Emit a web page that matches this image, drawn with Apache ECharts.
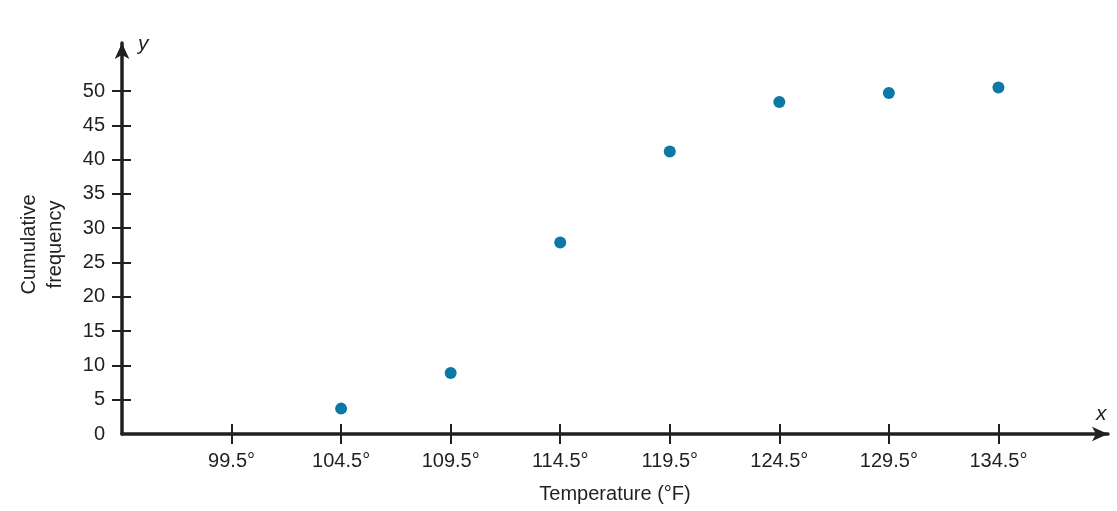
<!DOCTYPE html>
<html>
<head>
<meta charset="utf-8">
<script src="https://cdn.jsdelivr.net/npm/echarts@6/dist/echarts.min.js"></script>
<style>html,body{margin:0;padding:0;background:#fff}#c{width:1117px;height:511px}</style>
</head>
<body>
<div id="c"></div>
<script>
const xTicks = [99.5, 104.5, 109.5, 114.5, 119.5, 124.5, 129.5, 134.5];
const yTicks = [0, 5, 10, 15, 20, 25, 30, 35, 40, 45, 50];
const boundaries = [104.5, 109.5, 114.5, 119.5, 124.5, 129.5, 134.5];
const cumFreq = [3.7, 8.9, 27.9, 41.2, 48.4, 49.7, 50.5];
const xName = 'Temperature (°F)';
const yName = 'Cumulative\nfrequency';

const FONT = '"Liberation Sans", Arial, sans-serif';
const INK = '#231f20';
const chart = echarts.init(document.getElementById('c'));
const grid = {left: 122, right: 9, top: 43, bottom: 77, containLabel: false, outerBoundsMode: 'none'};
const xRange = {min: 94.5, max: 139.5, interval: 5};
const yRange = {min: 0, max: 57, interval: 5};
chart.setOption({
  animation: false,
  backgroundColor: '#ffffff',
  grid: grid,
  xAxis: [{
    type: 'value', ...xRange,
    name: xName, nameLocation: 'middle', nameGap: 50,
    nameTextStyle: {fontFamily: FONT, fontSize: 20, color: INK},
    axisLine: {show: true, lineStyle: {color: INK, width: 3.5}, symbol: ['none', 'arrow'], symbolSize: [11, 16], symbolOffset: [0, 0]},
    axisTick: {show: true, length: 10, lineStyle: {color: INK, width: 2}, customValues: xTicks},
    axisLabel: {fontFamily: FONT, fontSize: 20, color: INK, margin: 17, customValues: xTicks, formatter: v => v.toFixed(1) + '°'},
    splitLine: {show: false}
  }, {
    type: 'value', ...xRange, position: 'bottom',
    name: 'x', nameLocation: 'end', nameGap: -12,
    nameTextStyle: {fontFamily: FONT, fontSize: 21, fontStyle: 'italic', color: INK, verticalAlign: 'bottom', padding: [0, 0, 9, 0]},
    axisLine: {show: false},
    axisTick: {show: true, inside: true, length: 10, lineStyle: {color: INK, width: 2}, customValues: xTicks},
    axisLabel: {show: false},
    splitLine: {show: false}
  }],
  yAxis: [{
    type: 'value', ...yRange,
    name: yName, nameLocation: 'middle', nameGap: 54, nameRotate: 90,
    nameTextStyle: {fontFamily: FONT, fontSize: 20, color: INK, lineHeight: 26, padding: [0, 12, 0, 0]},
    axisLine: {show: true, lineStyle: {color: INK, width: 3.5}, symbol: ['none', 'arrow'], symbolSize: [11, 16], symbolOffset: [0, 0]},
    axisTick: {show: true, length: 10, lineStyle: {color: INK, width: 2}, customValues: yTicks.slice(1)},
    axisLabel: {fontFamily: FONT, fontSize: 20, color: INK, margin: 17, customValues: yTicks},
    splitLine: {show: false}
  }, {
    type: 'value', ...yRange, position: 'left',
    name: 'y', nameLocation: 'end', nameGap: -12,
    nameTextStyle: {fontFamily: FONT, fontSize: 21, fontStyle: 'italic', color: INK, align: 'left', padding: [0, 0, 0, 16]},
    axisLine: {show: false},
    axisTick: {show: true, inside: true, length: 9, lineStyle: {color: INK, width: 2}, customValues: yTicks.slice(1)},
    axisLabel: {show: false},
    splitLine: {show: false}
  }],
  series: [{
    type: 'scatter',
    data: boundaries.map((b, i) => [b, cumFreq[i]]),
    symbol: 'circle',
    symbolSize: 12,
    itemStyle: {color: '#0b78a6', opacity: 1}
  }]
});
</script>
</body>
</html>
